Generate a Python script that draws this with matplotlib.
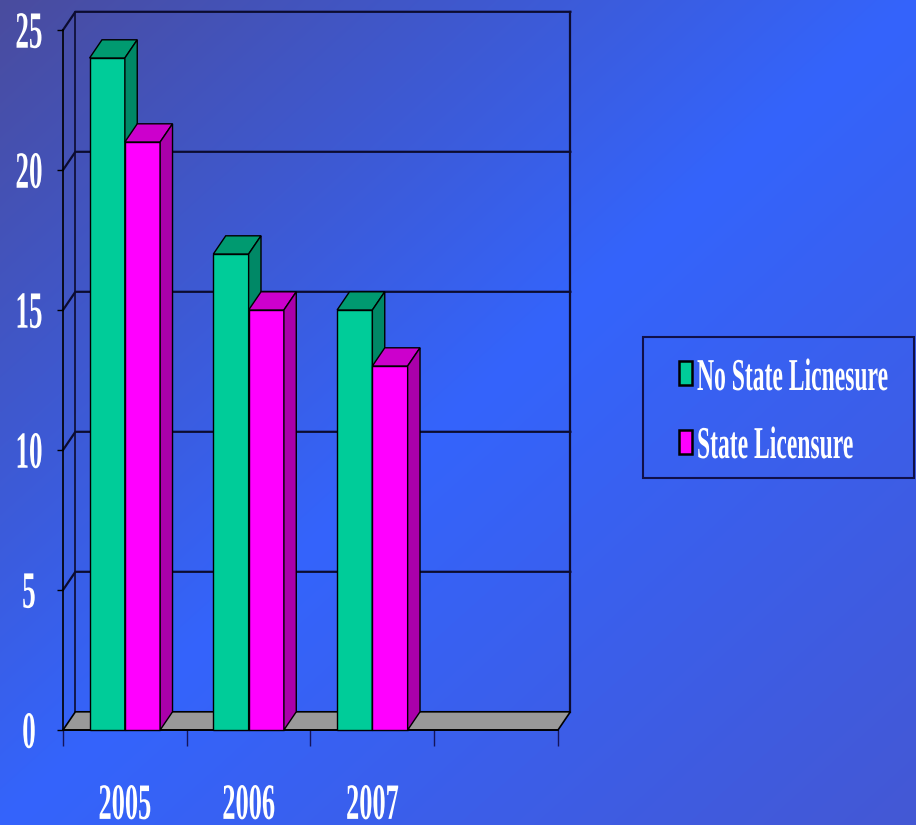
import numpy as np
import matplotlib
matplotlib.use('Agg')
import matplotlib.pyplot as plt
from matplotlib.patches import Rectangle, Polygon
from matplotlib.patheffects import AbstractPathEffect
from matplotlib.transforms import Affine2D

# licensure counts per year
years = ['2005', '2006', '2007']
no_state = [24, 17, 15]
state = [21, 15, 13]
series_names = ['No State Licnesure', 'State Licensure']
y_ticks = [0, 5, 10, 15, 20, 25]
n_slots = 4  # the category axis leaves one empty slot on the right

front_colors = ['#00CC99', '#FF00FF']
top_colors = ['#009A70', '#CC00CC']
side_colors = ['#008866', '#AA00AA']

plt.rcParams['font.family'] = ['Liberation Serif', 'DejaVu Serif']
plt.rcParams['font.weight'] = 'bold'


class Tall(AbstractPathEffect):
    """Stretch glyphs vertically so the text looks like a narrow Times face."""

    def __init__(self, sy=1.93, about='baseline'):
        super().__init__()
        self.sy = sy
        self.about = about

    def draw_path(self, renderer, gc, tpath, affine, rgbFace=None):
        ext = tpath.get_extents()
        cy = 0 if self.about == 'baseline' else (ext.y0 + ext.y1) / 2
        tall = Affine2D().translate(0, -cy).scale(1, self.sy).translate(0, cy)
        renderer.draw_path(gc, tpath, tall + affine, rgbFace)


W, H = 916, 825
fig = plt.figure(figsize=(W / 100, H / 100), dpi=100)

# diagonal blue backdrop
bg = fig.add_axes([0, 0, 1, 1], zorder=-1)
gx, gy = np.meshgrid(np.linspace(0, 1, W), np.linspace(0, 1, H))
t = (gx + gy) / 2
stops = np.array([[74, 76, 158], [52, 100, 252], [68, 88, 212]]) / 255
img = np.empty((H, W, 3))
for c in range(3):
    img[..., c] = np.interp(t, [0, 0.5, 1], stops[:, c])
bg.imshow(img, aspect='auto', extent=[0, 1, 0, 1])
bg.axis('off')

ax = fig.add_axes([63 / W, 95 / H, 495 / W, 700 / H])
ax.set_xlim(0, n_slots)
ax.set_ylim(0, y_ticks[-1])
ax.patch.set_visible(False)

dx, dy = 0.1, 0.65  # depth of the fake 3d box
ymax = y_ticks[-1]
grid_col = '#0c0c30'

# floor
ax.add_patch(Polygon([(0, 0), (n_slots, 0), (n_slots + dx, dy), (dx, dy)],
                     closed=True, fc='#999999', ec='black', lw=1.2,
                     zorder=2, clip_on=False))
# gridlines across side wall and back wall
for v in y_ticks[1:]:
    ax.plot([0, dx, n_slots + dx], [v, v + dy, v + dy], color=grid_col,
            lw=1.6, zorder=1, clip_on=False)
ax.plot([dx, dx], [dy, ymax + dy], color=grid_col, lw=1.2, zorder=1, clip_on=False)
ax.plot([n_slots + dx] * 2, [dy, ymax + dy], color=grid_col, lw=1.6,
        zorder=1, clip_on=False)

# 3d bars
bar_w = 0.285
offsets = [0.5 - bar_w, 0.5]
for i in range(len(years)):
    for s, vals in enumerate([no_state, state]):
        x0 = i + offsets[s]
        x1 = x0 + bar_w
        v = vals[i]
        z = 3 + i * 2 + s
        kw = dict(ec='black', lw=1.0, zorder=z, clip_on=False)
        ax.add_patch(Rectangle((x0, 0), bar_w, v, fc=front_colors[s], **kw))
        ax.add_patch(Polygon([(x0, v), (x1, v), (x1 + dx, v + dy), (x0 + dx, v + dy)],
                             closed=True, fc=top_colors[s], **kw))
        ax.add_patch(Polygon([(x1, 0), (x1 + dx, dy), (x1 + dx, v + dy), (x1, v)],
                             closed=True, fc=side_colors[s], **kw))

for side in ['top', 'right']:
    ax.spines[side].set_visible(False)
for side in ['left', 'bottom']:
    ax.spines[side].set_color('black')
    ax.spines[side].set_linewidth(1.2)

ax.set_yticks(y_ticks)
ax.tick_params(axis='y', direction='out', length=4.5, width=1, color='black',
               pad=20, labelsize=19.5, labelcolor='white')
for lab in ax.get_yticklabels():
    lab.set_horizontalalignment('center')
    lab.set_path_effects([Tall(about='center')])

ax.set_xticks(range(n_slots + 1))
ax.set_xticklabels([])
ax.tick_params(axis='x', which='major', direction='out', length=11.5, width=1,
               color='#14145a')
ax.set_xticks(np.arange(len(years)) + 0.5, minor=True)
ax.set_xticklabels(years, minor=True)
ax.tick_params(axis='x', which='minor', length=0, pad=64, labelsize=19,
               labelcolor='white')
for lab in ax.get_xticklabels(minor=True):
    lab.set_verticalalignment('baseline')
    lab.set_path_effects([Tall(about='baseline')])

# legend box
fig.add_artist(Rectangle((643 / W, 1 - 478 / H), 271 / W, 141 / H,
                         transform=fig.transFigure, fill=False,
                         ec='#10104a', lw=1.5))
for k, name in enumerate(series_names):
    fig.add_artist(Rectangle((679 / W, 1 - (385 + 69 * k) / H), 13 / W, 24 / H,
                             transform=fig.transFigure, fc=front_colors[k],
                             ec='black', lw=1.8))
    fig.text(697 / W, 1 - (390 + 68 * k) / H, name, ha='left', va='baseline',
             fontsize=17, color='white', path_effects=[Tall(about='baseline')])

fig.savefig('out.png', dpi=100)
